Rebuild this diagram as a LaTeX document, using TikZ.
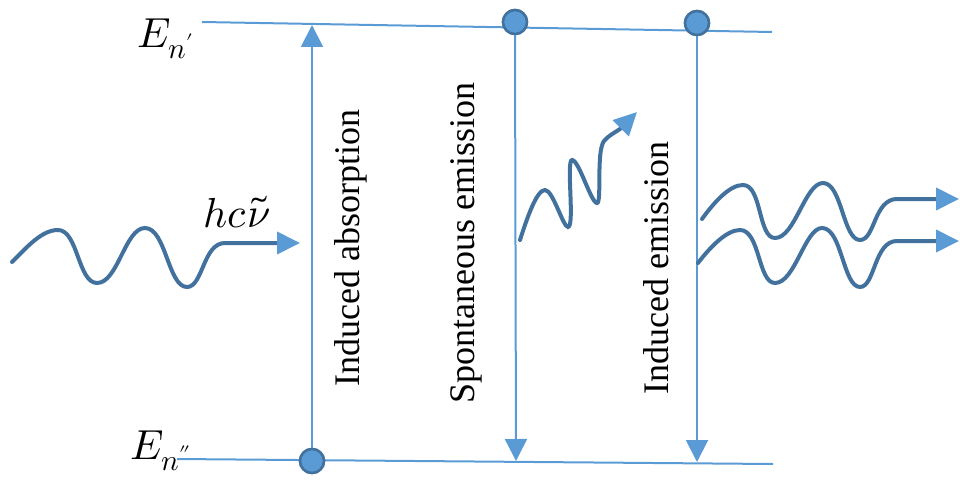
\documentclass[tikz,border=0pt]{standalone}
\usepackage{fontspec}
\usepackage{unicode-math}
\setmainfont{Liberation Serif}
\setmathfont{Latin Modern Math}
\usetikzlibrary{arrows.meta}
\definecolor{lblue}{HTML}{5B9BD5}
\definecolor{dblue}{HTML}{41719C}
\tikzset{
  level/.style={draw=lblue, line width=2pt},
  trans/.style={draw=lblue, line width=2pt, -{Triangle[length=22pt,width=22pt,color=lblue]}},
  dot/.style={circle, draw=dblue, fill=lblue, line width=2.5pt, minimum size=24pt, inner sep=0pt},
  wave/.style={draw=dblue, line width=4pt, line cap=round, -{Triangle[length=23pt,width=22pt,color=lblue]}},
  vlabel/.style={rotate=90, font=\fontsize{36}{40}\selectfont, inner sep=0pt},
  elabel/.style={font=\fontsize{42}{46}\selectfont, inner sep=0pt}
}
\begin{document}
\begin{tikzpicture}[x=1pt,y=-1pt]
\useasboundingbox (0,0) rectangle (960,484);
% levels
\coordinate (tl) at (202,22);
\coordinate (tr) at (772,32);
\coordinate (bl) at (177,459);
\coordinate (br) at (773,464);
\draw[level] (tl) -- (tr);
\draw[level] (bl) -- (br);
% transition end points
\coordinate (absTop) at (312,25);
\coordinate (spEnd) at (516,461);
\coordinate (ieEnd) at (697,462);
% dots
\node[dot] (d1) at (312,461) {};
\node[dot] (d2) at (515,22) {};
\node[dot] (d3) at (697,23) {};
\draw[trans] (d1.north) -- (absTop);
\draw[trans] (d2.south) -- (spEnd);
\draw[trans] (d3.south) -- (ieEnd);
% repaint dots over lines
\node[dot] at (d1) {};
\node[dot] at (d2) {};
\node[dot] at (d3) {};
% labels
\node[elabel] (En1) at (166,39) {$E_{n'}$};
\node[elabel] (En2) at (161,451) {$E_{n''}$};
\node[elabel] (hc) at (237,212) {$hc\tilde{\nu}$};
\node[vlabel] (ia) at (351,248) {Induced absorption};
\node[vlabel] (se) at (466,243) {Spontaneous emission};
\node[vlabel] (ie) at (656,268) {Induced emission};
% incoming photon
\coordinate (w1s) at (12,262);
\coordinate (w1e) at (300,243);
\draw[wave] (w1s) .. controls (28,246) and (42,230) .. (58,230)
  .. controls (78,230) and (78,283) .. (97,283)
  .. controls (118,283) and (125,228) .. (145,228)
  .. controls (166,228) and (168,287) .. (187,287)
  .. controls (203,287) and (203,243) .. (225,243)
  -- (w1e);
% spontaneous photon
\coordinate (w2s) at (520,240);
\coordinate (w2e) at (637,112);
\draw[wave] (w2s) .. controls (528,215) and (537,190) .. (545,190)
  .. controls (553,190) and (563,227) .. (568,227)
  .. controls (575,227) and (566,160) .. (572,160)
  .. controls (579,160) and (591,203) .. (597,203)
  .. controls (602,203) and (596,152) .. (604,141)
  .. controls (608,136) and (614,133) .. (620,129)
  -- (w2e);
% stimulated photons
\coordinate (w3s) at (702,219);
\coordinate (w3e) at (959,199);
\draw[wave] (w3s) .. controls (715,201) and (730,185) .. (743,185)
  .. controls (762,185) and (758,238) .. (775,238)
  .. controls (795,238) and (805,183) .. (823,183)
  .. controls (842,183) and (843,240) .. (860,240)
  .. controls (875,240) and (874,199) .. (897,199)
  -- (w3e);
\coordinate (w4s) at (698,263);
\coordinate (w4e) at (959,241);
\draw[wave] (w4s) .. controls (711,246) and (727,230) .. (740,230)
  .. controls (760,230) and (758,283) .. (775,283)
  .. controls (795,283) and (805,228) .. (822,228)
  .. controls (842,228) and (843,287) .. (860,287)
  .. controls (875,287) and (874,241) .. (897,241)
  -- (w4e);
\end{tikzpicture}
\end{document}
